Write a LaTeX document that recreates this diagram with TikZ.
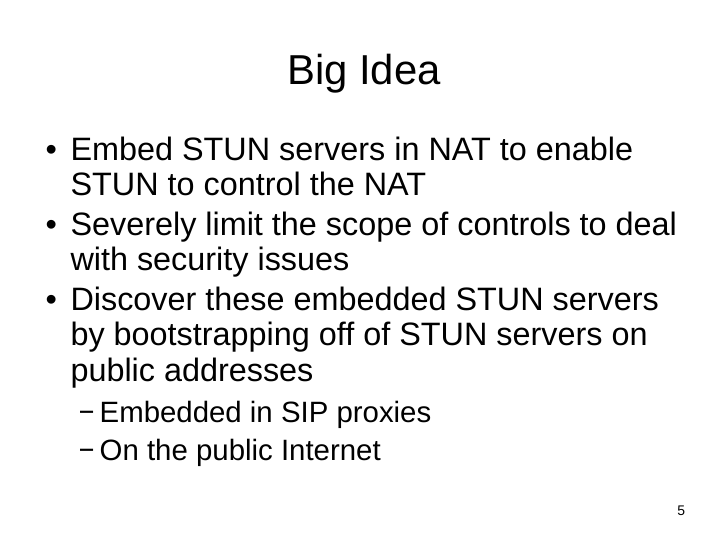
\documentclass[tikz,border=0pt]{standalone}
\usepackage{graphicx}
\usepackage{fontspec}
\setmainfont{Liberation Sans}
\usetikzlibrary{positioning}

\begin{document}
\begin{tikzpicture}[x=1bp,y=-1bp,
    every node/.style={inner sep=0pt,outer sep=0pt},
    slidetitle/.style={font=\fontsize{42}{50}\selectfont,anchor=base},
    bodyline/.style={font=\fontsize{32.5}{35}\selectfont,anchor=base west},
    subline/.style={font=\fontsize{29.5}{35}\selectfont,anchor=base west},
    pagenum/.style={font=\fontsize{14}{16}\selectfont,anchor=base east}]
    \useasboundingbox (0,0) rectangle (728,546);

    \node[slidetitle] (title) at (364,85) {Big Idea};

    % first item
    \node[bodyline] (bul1) at (45.5,161) {\textbullet};
    \node[bodyline] (item1a) at (70.5,161) {Embed STUN servers in NAT to enable};
    \node[bodyline] (item1b) at (70.5,196) {STUN to control the NAT};

    % second item
    \node[bodyline] (bul2) at (45.5,236) {\textbullet};
    \node[bodyline] (item2a) at (70.5,236) {Severely limit the scope of controls to deal};
    \node[bodyline] (item2b) at (70.5,271) {with security issues};

    % third item
    \node[bodyline] (bul3) at (45.5,310) {\textbullet};
    \node[bodyline] (item3a) at (70.5,310) {Discover these embedded STUN servers};
    \node[bodyline] (item3b) at (70.5,345) {by bootstrapping off of STUN servers on};
    \node[bodyline] (item3c) at (70.5,381) {public addresses};

    % sub items
    \node[subline] (dash1) at (80,422) {\raisebox{1.5bp}{\scalebox{0.8}[1.1]{\textendash}}};
    \node[subline] (sub1) at (99.7,422) {Embedded in SIP proxies};
    \node[subline] (dash2) at (80,460) {\raisebox{1.5bp}{\scalebox{0.8}[1.1]{\textendash}}};
    \node[subline] (sub2) at (99.7,460) {On the public Internet};

    \node[pagenum] (page) at (685,515) {5};
\end{tikzpicture}
\end{document}
